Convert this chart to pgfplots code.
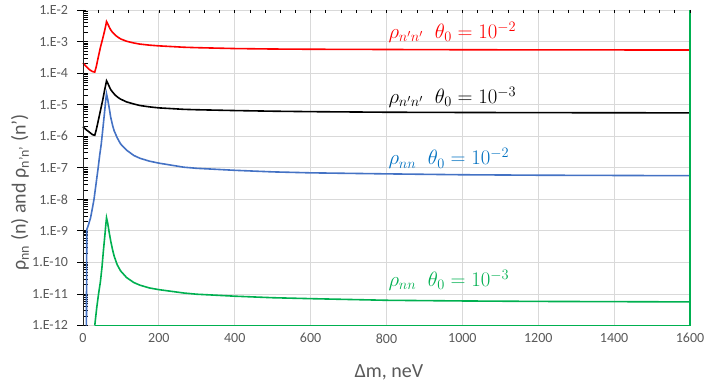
\documentclass[border=0pt]{standalone}
\usepackage{fontspec}
\setmainfont{Carlito}
\usepackage{pgfplots}
\pgfplotsset{compat=1.18}

\definecolor{cred}{HTML}{FF0000}
\definecolor{cblue}{HTML}{4472C4}
\definecolor{cbluetxt}{HTML}{0070C0}
\definecolor{cgreen}{HTML}{00B050}
\definecolor{cgrid}{HTML}{D9D9D9}
\definecolor{ctxt}{HTML}{595959}

\begin{document}
\begin{tikzpicture}
% grid behind the axis (decades and every 200 neV)
\foreach \k in {0,...,10}
  \draw[cgrid, line width=0.8pt] (0,\k*31.55pt) -- (607pt,\k*31.55pt);
\foreach \k in {1,...,8}
  \draw[cgrid, line width=0.8pt] (\k*75.875pt,0) -- (\k*75.875pt,315.5pt);

\begin{axis}[
  scale only axis,
  width=607pt, height=315.5pt,
  xmin=0, xmax=1600,
  ymode=log, ymin=1e-12, ymax=1e-2,
  xtick={0,200,400,600,800,1000,1200,1400,1600},
  ytick={1e-12,1e-11,1e-10,1e-9,1e-8,1e-7,1e-6,1e-5,1e-4,1e-3,1e-2},
  yticklabels={1.E-12,1.E-11,1.E-10,1.E-9,1.E-8,1.E-7,1.E-6,1.E-5,1.E-4,1.E-3,1.E-2},
  /pgf/number format/assume math mode=true,
  xticklabel={\pgfmathprintnumber[fixed,1000 sep={}]{\tick}},
  tick label style={font=\fontsize{14}{16}\selectfont, text=ctxt},
  axis line style={draw=none},
  x tick style={draw=none},
  ytick pos=left,
  tick align=center,
  major tick length=9pt,
  minor tick length=5pt,
  every major y tick/.style={xshift=-1.5pt, black, line width=0.8pt},
  every minor y tick/.style={xshift=2.5pt, black, line width=0.6pt},
  yticklabel style={xshift=-7pt},
  clip=false,
  every axis plot/.append style={line width=1.6pt},
]
% rho_n'n', theta0 = 1e-2
\addplot[cred] coordinates {
  (0,2.1e-4) (5,1.8e-4) (10,1.55e-4) (15,1.35e-4) (20,1.22e-4) (25,1.12e-4)
  (31,1.08e-4) (35,1.6e-4) (40,3.1e-4) (46,6.6e-4) (52,1.25e-3) (57,2.2e-3)
  (60,3.2e-3) (62,4.3e-3) (65,3.7e-3) (69,2.9e-3) (73,2.35e-3) (78,1.95e-3)
  (85,1.6e-3) (93,1.35e-3) (100,1.2e-3) (115,1.02e-3) (134,9.0e-4)
  (150,8.3e-4) (175,7.7e-4) (200,7.3e-4) (266,6.6e-4) (300,6.4e-4)
  (400,6.0e-4) (500,5.8e-4) (600,5.7e-4) (800,5.6e-4) (1000,5.5e-4)
  (1200,5.45e-4) (1400,5.42e-4) (1600,5.4e-4)};
% rho_n'n', theta0 = 1e-3
\addplot[black] coordinates {
  (0,2e-6) (5,1.75e-6) (10,1.55e-6) (15,1.4e-6) (20,1.25e-6) (25,1.12e-6)
  (31,1.07e-6) (35,1.6e-6) (40,3e-6) (46,6.5e-6) (52,1.4e-5) (57,2.9e-5)
  (60,4.3e-5) (62,5.7e-5) (65,4.9e-5) (69,3.8e-5) (73,3.0e-5) (78,2.5e-5)
  (85,2.0e-5) (92,1.7e-5) (99,1.5e-5) (115,1.22e-5) (134,1.05e-5)
  (150,9.4e-6) (175,8.5e-6) (200,7.9e-6) (266,7.1e-6) (300,6.9e-6)
  (400,6.5e-6) (500,6.2e-6) (600,6.0e-6) (800,5.75e-6) (1000,5.65e-6)
  (1200,5.58e-6) (1400,5.53e-6) (1600,5.5e-6)};
% rho_nn, theta0 = 1e-2
\addplot[cblue] coordinates {
  (9,1e-12) (10,1.1e-9) (14,1.5e-9) (20,2.6e-9) (25,5.4e-9) (29,1e-8)
  (35,3.5e-8) (40,1e-7) (44,2.5e-7) (48,5.5e-7) (51,1.2e-6) (55,3.5e-6)
  (58,8e-6) (60,1.4e-5) (62,2.2e-5) (65,1.5e-5) (69,8e-6) (73,4e-6)
  (78,2.2e-6) (82,1.5e-6) (90,9e-7) (99,5.7e-7) (115,3.6e-7) (134,2.45e-7)
  (150,2.0e-7) (175,1.62e-7) (200,1.4e-7) (266,1.04e-7) (300,9.6e-8)
  (400,8.3e-8) (500,7.4e-8) (600,6.9e-8) (800,6.4e-8) (1000,6.0e-8)
  (1200,5.8e-8) (1400,5.7e-8) (1600,5.6e-8)};
% rho_nn, theta0 = 1e-3
\addplot[cgreen] coordinates {
  (31,1e-12) (36,3.5e-12) (41,1e-11) (46,2.5e-11) (50,7e-11) (54,2.5e-10)
  (58,8e-10) (60,1.5e-9) (62,2.6e-9) (65,1.8e-9) (69,9e-10) (73,4.8e-10)
  (78,2.5e-10) (82,1.6e-10) (90,8.5e-11) (99,5.4e-11) (115,3.3e-11)
  (134,2.3e-11) (150,1.9e-11) (175,1.55e-11) (200,1.37e-11) (266,1.07e-11)
  (300,9.8e-12) (400,8.5e-12) (500,7.6e-12) (600,7.1e-12) (800,6.3e-12)
  (1000,6.0e-12) (1200,5.8e-12) (1400,5.7e-12) (1600,5.6e-12)};

\node[anchor=west, text=cred, font=\fontsize{21}{23}\selectfont]
  at (axis cs:796,1.94e-3) {$\rho_{n'n'}\;\;\theta_0=10^{-2}$};
\node[anchor=west, text=black, font=\fontsize{21}{23}\selectfont]
  at (axis cs:796,1.7e-5) {$\rho_{n'n'}\;\;\theta_0=10^{-3}$};
\node[anchor=west, text=cbluetxt, font=\fontsize{21}{23}\selectfont]
  at (axis cs:796,1.95e-7) {$\rho_{nn}\;\;\theta_0=10^{-2}$};
\node[anchor=west, text=cgreen, font=\fontsize{21}{23}\selectfont]
  at (axis cs:796,2.7e-11) {$\rho_{nn}\;\;\theta_0=10^{-3}$};
\end{axis}

% axis frame: left line, green bottom and right edges, top ticks
\draw[black!85, line width=0.8pt] (0,0) -- (0,315.5pt);
\draw[cgreen, line width=1.4pt] (11.5pt,0) -- (607pt,0) -- (607pt,315.5pt);
\foreach \i in {0,...,40}
  \draw[black, line width=0.7pt] (\i*15.175pt,315.5pt) -- ++(0,-3pt);

\node[rotate=90, text=ctxt, font=\fontsize{20}{22}\selectfont]
  at (-63pt,133pt) {ρ\textsubscript{nn} (n) and ρ\textsubscript{n'n'} (n')};
\node[text=ctxt, font=\fontsize{20}{22}\selectfont]
  at (306pt,-47pt) {Δm, neV};

\pgfresetboundingbox
\path (-83pt,-59.5pt) rectangle (625pt,325.5pt);
\end{tikzpicture}
\end{document}
